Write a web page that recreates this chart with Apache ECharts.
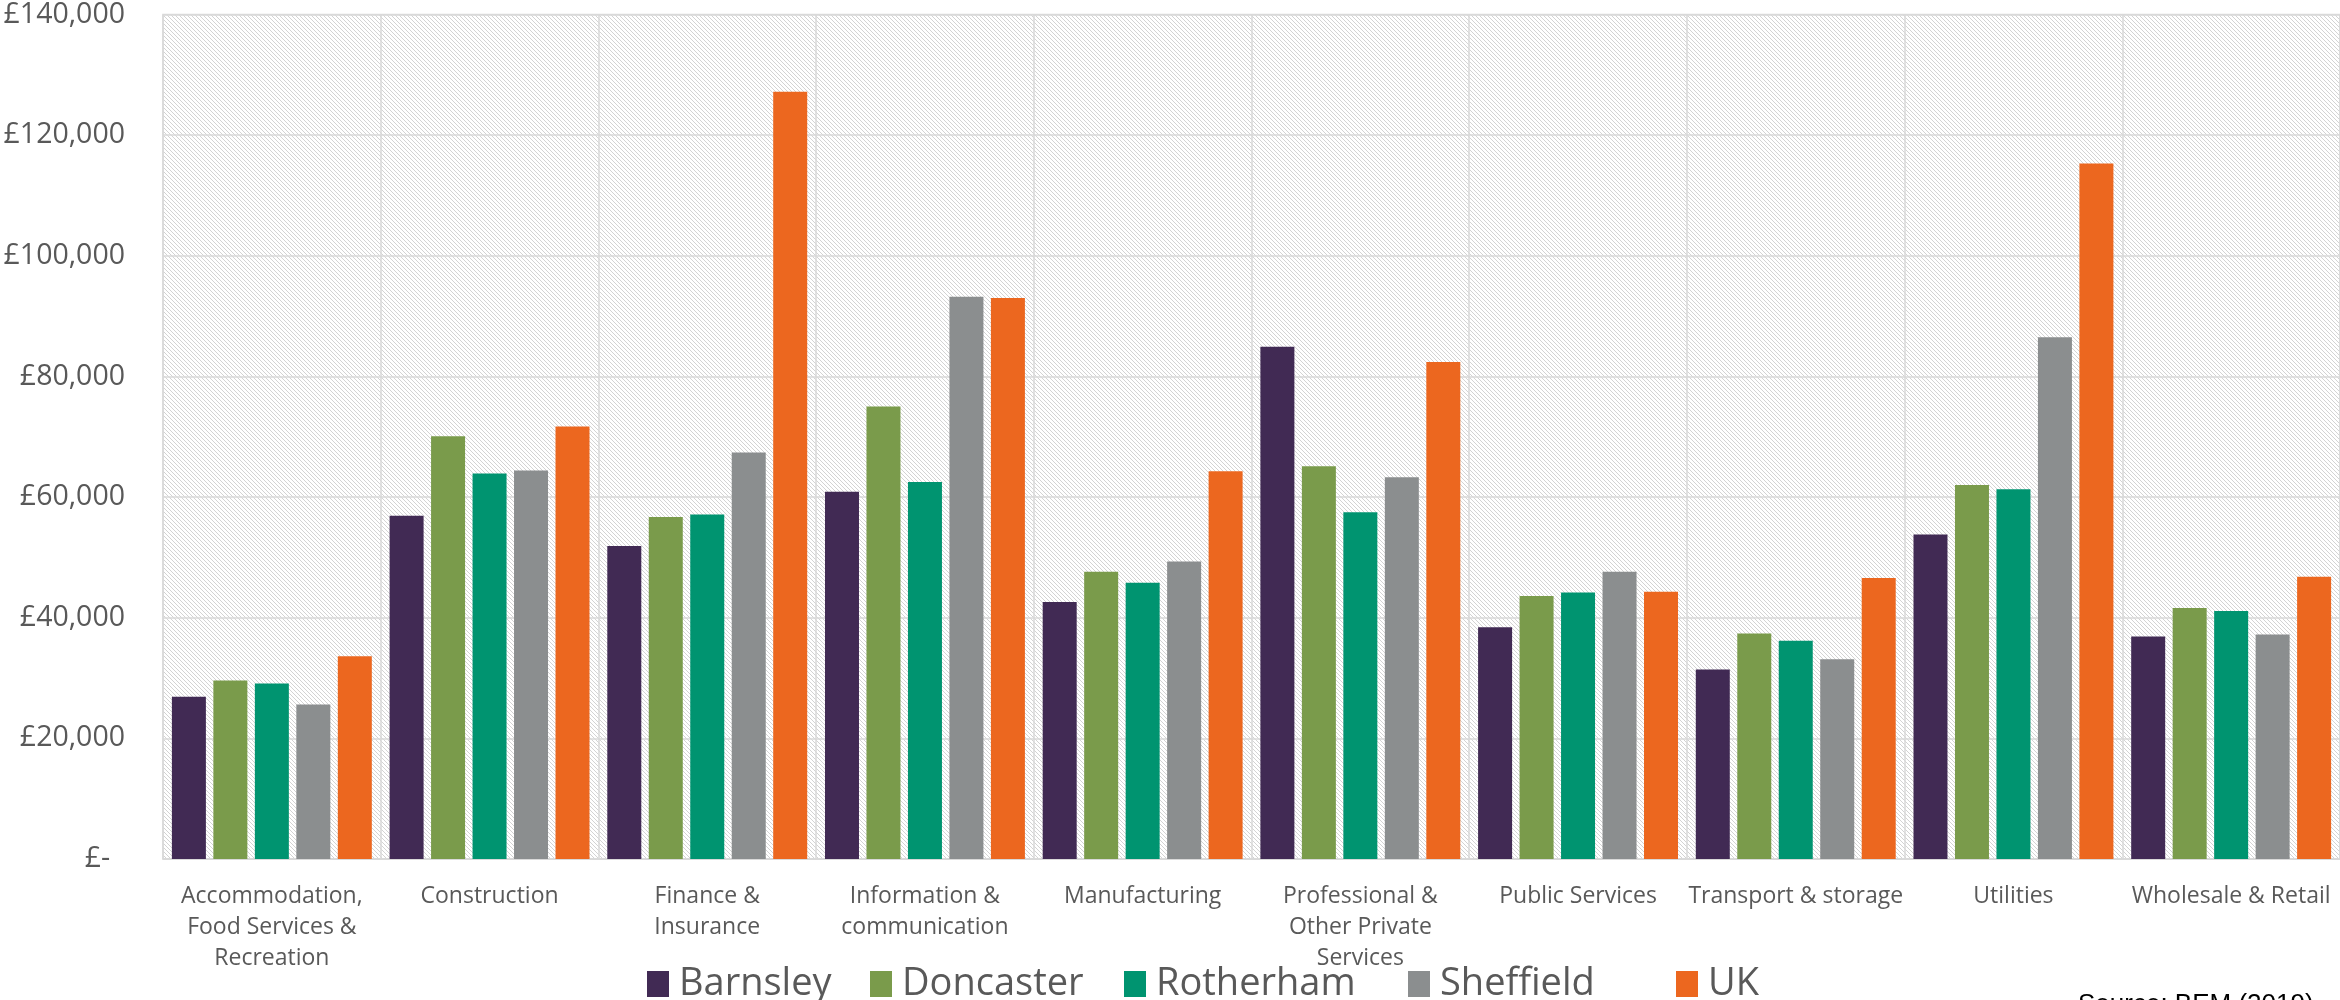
<!DOCTYPE html>
<html>
<head>
<meta charset="utf-8">
<script src="https://cdn.jsdelivr.net/npm/echarts@6/dist/echarts.min.js"></script>
<style>html,body{margin:0;padding:0;background:#fff;}#c{width:2340px;height:1000px;}</style>
</head>
<body>
<div id="c"></div>
<script>
const categories = ['Accommodation, Food Services & Recreation','Construction','Finance & Insurance','Information & communication','Manufacturing','Professional & Other Private Services','Public Services','Transport & storage','Utilities','Wholesale & Retail'];
const tickLabels = ['Accommodation,\nFood Services &\nRecreation','Construction','Finance &\nInsurance','Information &\ncommunication','Manufacturing','Professional &\nOther Private\nServices','Public Services','Transport & storage','Utilities','Wholesale & Retail'];
const seriesNames = ['Barnsley','Doncaster','Rotherham','Sheffield','UK'];
const barnsley  = [26900, 56900, 51900, 60900, 42600, 84900, 38400, 31400, 53800, 36900];
const doncaster = [29600, 70100, 56700, 75000, 47600, 65100, 43600, 37400, 62000, 41600];
const rotherham = [29100, 63900, 57100, 62500, 45800, 57500, 44200, 36200, 61300, 41100];
const sheffield = [25600, 64400, 67400, 93200, 49300, 63300, 47600, 33100, 86500, 37200];
const uk        = [33600, 71700, 127200, 93000, 64300, 82400, 44300, 46600, 115300, 46800];
const colors = ['#412a54','#7a9b4b','#009470','#8b8e8f','#ec671f'];
const yTicks = {min: 0, max: 140000, interval: 20000};
const legendLeft = [642, 865, 1119, 1403, 1671];

// hatch pattern
const pc = document.createElement('canvas');
pc.width = 4; pc.height = 4;
const pctx = pc.getContext('2d');
pctx.fillStyle = '#ffffff'; pctx.fillRect(0,0,4,4);
pctx.fillStyle = '#d3d3d3';
for (let i = 0; i < 4; i++) pctx.fillRect(i, i, 1, 1);

const data = [barnsley, doncaster, rotherham, sheffield, uk];
const chart = echarts.init(document.getElementById('c'), null, {renderer: 'canvas'});
chart.setOption({
  animation: false,
  backgroundColor: '#ffffff',
  grid: {left: 163, top: 13, width: 2178, bottom: 141, show: true,
         backgroundColor: {image: pc, repeat: 'repeat'}, borderColor: '#d9d9d9', borderWidth: 1.5},
  legend: seriesNames.map((n, k) => ({
    data: [n], left: legendLeft[k], top: 960, itemWidth: 22, itemHeight: 26,
    icon: 'rect',
    textStyle: {fontFamily: 'Open Sans', fontSize: 38, color: '#595959', padding: [0,0,0,5]}
  })),
  xAxis: {
    type: 'category', data: categories,
    axisLine: {show: true, lineStyle: {color: '#d9d9d9', width: 1.5}},
    axisTick: {show: false},
    splitLine: {show: true, lineStyle: {color: '#d9d9d9', width: 1.5}},
    axisLabel: {
      interval: 0, margin: 22, fontFamily: 'Open Sans', fontSize: 23, color: '#595959', lineHeight: 31,
      formatter: (v, i) => tickLabels[i]
    }
  },
  yAxis: {
    type: 'value', min: yTicks.min, max: yTicks.max, interval: yTicks.interval,
    axisLine: {show: false}, axisTick: {show: false},
    splitLine: {lineStyle: {color: '#d9d9d9', width: 1.5}},
    axisLabel: {
      margin: 38, fontFamily: 'Open Sans', fontSize: 28.5, color: '#595959',
      formatter: v => v === 0 ? '£-  ' : '£' + v.toLocaleString('en-GB')
    }
  },
  series: seriesNames.map((n, k) => ({
    name: n, type: 'bar', data: data[k], barWidth: 34, barGap: '22%',
    itemStyle: {color: colors[k]}
  })),
  graphic: [{
    type: 'text', left: 2078, top: 992,
    style: {text: 'Source: BEM (2019)', font: '26px "Liberation Sans", Arial', fill: '#000000'}
  }]
});
</script>
</body>
</html>
